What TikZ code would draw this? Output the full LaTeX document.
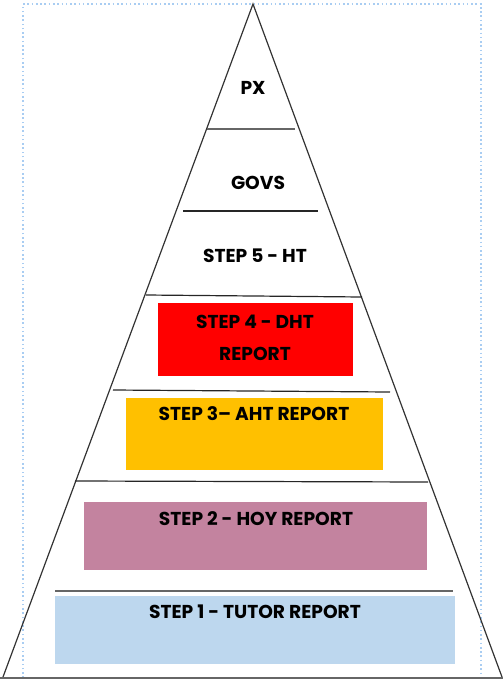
\documentclass[tikz,border=0pt]{standalone}
\usepackage{fontspec}
\setmainfont{Poppins}
\definecolor{dhtred}{HTML}{FF0000}
\definecolor{ahtorange}{HTML}{FFC000}
\definecolor{hoymauve}{HTML}{C3839F}
\definecolor{tutorblue}{HTML}{BDD7EE}
\definecolor{framecol}{HTML}{A9CDF2}
\tikzset{lvl/.style={
    font=\bfseries\fontsize{14}{24}\selectfont,
    align=center,
    inner sep=0pt
  },
  sbox/.style={rectangle,inner sep=0pt,anchor=north west},
  dhtbox/.style={sbox,fill=dhtred},
  ahtbox/.style={sbox,fill=ahtorange},
  hoybox/.style={sbox,fill=hoymauve},
  tutorbox/.style={sbox,fill=tutorblue},
  sep/.style={line width=0.9pt,black!85},
}

\begin{document}
\begin{tikzpicture}[x=0.75pt,y=-0.75pt]
  \useasboundingbox (0,0) rectangle (503,679);
  % frame
  \draw[framecol,dotted,line width=1.2pt] (23,678) -- (23,4) -- (481,4) -- (481,678);
  % coloured boxes
  \node[dhtbox,minimum width=146.25pt,minimum height=54.75pt] (dht) at (158,303) {};
  \node[ahtbox,minimum width=192.75pt,minimum height=54pt] (aht) at (126,398) {};
  \node[hoybox,minimum width=257.25pt,minimum height=51pt] (hoy) at (84,502) {};
  \node[tutorbox,minimum width=300pt,minimum height=51pt] (tutor) at (55,596) {};
  % pyramid
  \draw[line width=0.9pt,black!80] (3,677) -- (253,4) -- (502,677);
  \draw[line width=1.2pt,black!60] (0,678) -- (503,678);
  \draw[sep,black!60] (207,129) -- (295,129);
  \draw[sep] (183,211) -- (318,211);
  \draw[sep] (146,295) -- (362,297);
  \draw[sep] (113,390) -- (390,392);
  \draw[sep] (75,481) -- (428,482);
  \draw[sep,black!60,line width=1.2pt] (55,591) -- (453,591);
  % labels
  \node[lvl] (px) at (253,88) {PX};
  \node[lvl] (govs) at (258,183) {GOVS};
  \node[lvl] (ht) at (255,256) {STEP 5 - HT};
  \node[lvl] (dhtlab) at (255,338) {STEP 4 - DHT\\REPORT};
  \node[lvl] (ahtlab) at (254,414) {STEP 3– AHT REPORT};
  \node[lvl] (hoylab) at (256,519) {STEP 2 - HOY REPORT};
  \node[lvl] (tutorlab) at (255,612) {STEP 1 - TUTOR REPORT};
\end{tikzpicture}
\end{document}
